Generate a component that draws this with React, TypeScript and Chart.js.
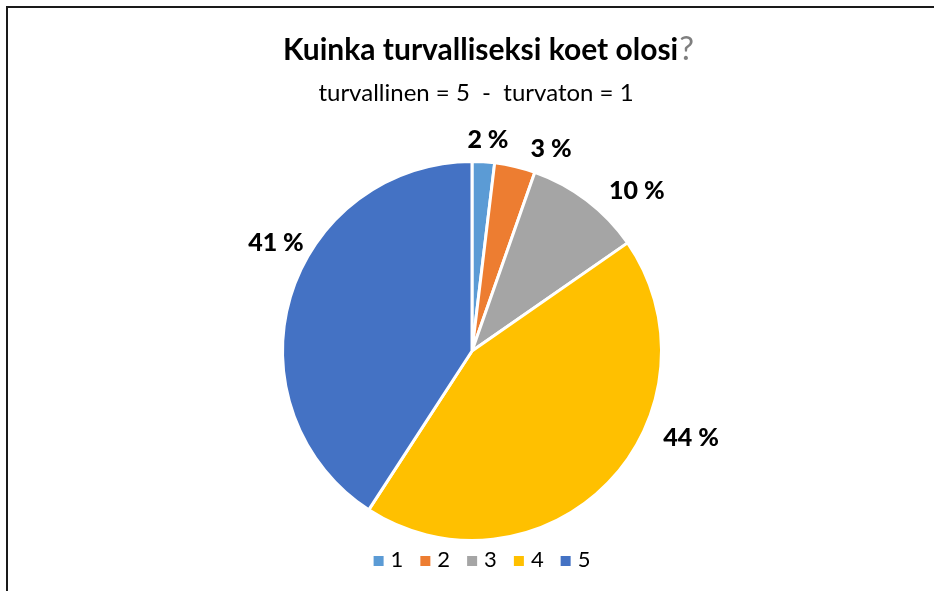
import { useEffect, useRef } from "react";
import { Chart, PieController, ArcElement } from "chart.js";

Chart.register(PieController, ArcElement);

// ---- data ----
const categories = ["1", "2", "3", "4", "5"];
const shares = [1.9, 3.45, 9.9, 43.6, 40.6];
const sliceColors = ["#5B9BD5", "#ED7D31", "#A5A5A5", "#FFC000", "#4472C4"];
const titleText = "Kuinka turvalliseksi koet olosi";
const titleMark = "?";
const subtitleText = "turvallinen = 5  -  turvaton = 1";

const FONT = "Lato, 'Open Sans', 'DejaVu Sans', sans-serif";

// label anchor: polar angle (deg, clockwise from top) and distance as a multiple of the radius
const labelAngles = [4.3, 21.3, 45.7, 111.4, 299.1];
const labelDist = [1.122, 1.149, 1.216, 1.242, 1.184];

const overlay = {
  id: "overlay",
  beforeDraw(chart: any) {
    const ctx = chart.ctx as CanvasRenderingContext2D;
    ctx.save();
    ctx.fillStyle = "#ffffff";
    ctx.fillRect(0, 0, chart.width, chart.height);
    ctx.fillStyle = "#1a1a1a";
    ctx.fillRect(6, 6, 2, chart.height - 6);
    ctx.fillRect(6, 6, chart.width - 6, 2);
    ctx.restore();
  },
  afterDraw(chart: any) {
    const ctx = chart.ctx as CanvasRenderingContext2D;
    const meta = chart.getDatasetMeta(0);
    const arc0 = meta.data[0];
    const { x: cx, y: cy, outerRadius } = arc0.getProps(["x", "y", "outerRadius"], true);
    const values: number[] = chart.data.datasets[0].data;
    const total = values.reduce((a, b) => a + b, 0);

    ctx.save();
    // data labels
    const lsize = 25;
    ctx.font = `900 ${lsize}px ${FONT}`;
    ctx.fillStyle = "#000000";
    ctx.textAlign = "center";
    ctx.textBaseline = "alphabetic";
    values.forEach((v, i) => {
      const th = (labelAngles[i] * Math.PI) / 180;
      const d = labelDist[i] * outerRadius;
      const x = cx + Math.sin(th) * d;
      const y = cy - Math.cos(th) * d;
      const pct = Math.round((v / total) * 100);
      ctx.fillText(`${pct} %`, x, y + lsize * 0.36);
    });

    // title
    const tsize = 30;
    ctx.textAlign = "left";
    ctx.font = `bold ${tsize}px ${FONT}`;
    const w1 = ctx.measureText(titleText).width;
    ctx.font = `${tsize + 3}px ${FONT}`;
    const w2 = ctx.measureText(titleMark).width;
    const tx = 488 - (w1 + w2) / 2;
    ctx.font = `bold ${tsize}px ${FONT}`;
    ctx.fillStyle = "#000000";
    ctx.fillText(titleText, tx, 60);
    ctx.font = `${tsize + 3}px ${FONT}`;
    ctx.fillStyle = "#7f7f7f";
    ctx.fillText(titleMark, tx + w1 + 1, 60);

    // subtitle
    ctx.font = `${24}px ${FONT}`;
    ctx.fillStyle = "#000000";
    ctx.textAlign = "center";
    ctx.fillText(subtitleText, 476, 101);

    // legend
    const gsize = 22;
    ctx.font = `${gsize}px ${FONT}`;
    const box = 10;
    const gap = 7;
    const itemGap = 17;
    const widths = categories.map((c) => box + gap + ctx.measureText(c).width);
    const totalW = widths.reduce((a, b) => a + b, 0) + itemGap * (categories.length - 1);
    let lx = 482 - totalW / 2;
    const baseY = 567;
    ctx.textAlign = "left";
    categories.forEach((c, i) => {
      ctx.fillStyle = sliceColors[i];
      ctx.fillRect(lx, baseY - 11, box, box);
      ctx.fillStyle = "#000000";
      ctx.fillText(c, lx + box + gap, baseY);
      lx += widths[i] + itemGap;
    });
    ctx.restore();
  },
};

export default function App() {
  const ref = useRef<HTMLCanvasElement | null>(null);
  useEffect(() => {
    if (!ref.current) return;
    const chart = new Chart(ref.current, {
      type: "pie",
      data: {
        labels: categories,
        datasets: [
          {
            data: shares,
            backgroundColor: sliceColors,
            borderColor: "#ffffff",
            borderWidth: 3,
          },
        ],
      },
      options: {
        animation: false,
        responsive: false,
        radius: 189.5,
        layout: { padding: { left: 10, right: 0, top: 111, bottom: 0 } },
        plugins: {
          legend: { display: false },
          tooltip: { enabled: false },
          title: { display: false },
        },
      } as any,
      plugins: [overlay],
    });
    return () => chart.destroy();
  }, []);
  return (
    <div style={{ position: "fixed", left: 0, top: 0, width: 934, height: 591, background: "#fff" }}>
      <canvas ref={ref} width={934} height={591} style={{ display: "block" }} />
    </div>
  );
}
